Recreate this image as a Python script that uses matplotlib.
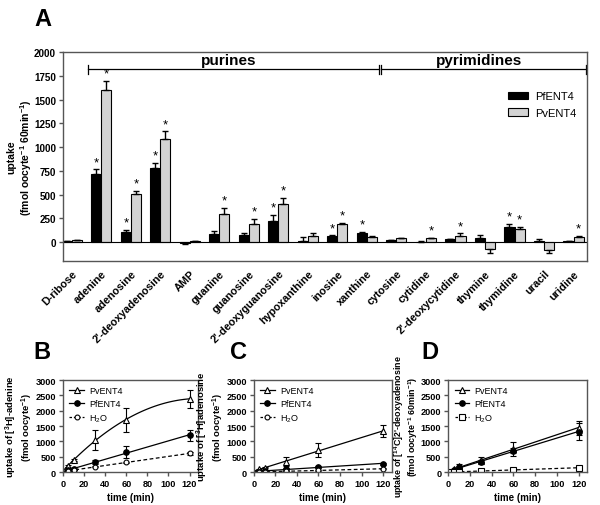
import numpy as np
import matplotlib
matplotlib.use('Agg')
from matplotlib import pyplot as plt

plt.rcParams['font.family'] = ['Liberation Sans', 'DejaVu Sans']
plt.rcParams['mathtext.default'] = 'regular'

# panel A data
labels = ['D-ribose', 'adenine', 'adenosine', "2'-deoxyadenosine", 'AMP', 'guanine',
          'guanosine', "2'-deoxyguanosine", 'hypoxanthine', 'inosine', 'xanthine',
          'cytosine', 'cytidine', "2'-deoxycytidine", 'thymine', 'thymidine', 'uracil', 'uridine']
pf_mean = [10, 712, 109, 779, -12, 84, 74, 221, 14, 60, 95, 21, 5, 32, 46, 161, 10, 10]
pf_err = [3, 53, 21, 56, 3, 32, 25, 63, 40, 10, 8, 4, 2, 5, 30, 28, 25, 3]
pv_mean = [18, 1600, 505, 1088, 8, 298, 189, 396, 60, 186, 53, 42, 42, 67, -77, 140, -81, 53]
pv_err = [3, 95, 32, 77, 2, 60, 56, 67, 35, 20, 8, 5, 5, 25, 35, 21, 32, 14]
pf_star = [0, 1, 1, 1, 0, 0, 0, 1, 0, 1, 1, 0, 0, 0, 0, 1, 0, 0]
pv_star = [0, 1, 1, 1, 0, 1, 1, 1, 0, 1, 0, 0, 1, 1, 0, 1, 0, 1]

# time courses (B, C, D)
t = [5, 10, 30, 60, 120]
b_pv = [200, 400, 1043, 1696, 2391]
b_pv_err = [40, 40, 320, 390, 300]
b_pf = [65, 87, 326, 663, 1196]
b_pf_err = [20, 20, 60, 190, 190]
b_h2o = [40, 65, 174, 315, 609]
b_h2o_err = [10, 10, 20, 30, 40]

c_pv = [87, 150, 337, 717, 1337]
c_pv_err = [20, 30, 150, 230, 200]
c_pf = [10, 30, 109, 174, 272]
c_pf_err = [5, 5, 20, 30, 40]
c_h2o = [2, 5, 33, 54, 109]
c_h2o_err = [2, 2, 5, 10, 15]

td = [0, 5, 10, 30, 60, 120]
d_pv = [0, 87, 200, 380, 760, 1446]
d_pv_err = [0, 20, 60, 120, 220, 230]
d_pf = [0, 70, 170, 337, 700, 1315]
d_pf_err = [0, 20, 40, 60, 80, 280]
d_h2o = [0, 5, 10, 33, 76, 141]
d_h2o_err = [0, 2, 2, 5, 10, 15]

fig = plt.figure(figsize=(6.0, 5.06), dpi=100)
spine_col = '#555555'

# ---------- panel A ----------
ax = fig.add_axes([0.105, 0.482, 0.873, 0.413])
x = np.arange(len(labels))
w = 0.34

def split_err(vals, errs):
    lo = [e if v < 0 else 0 for v, e in zip(vals, errs)]
    hi = [0 if v < 0 else e for v, e in zip(vals, errs)]
    return [lo, hi]

ax.bar(x - w/2, pf_mean, w, color='black', edgecolor='black', linewidth=0.8, label='PfENT4',
       yerr=split_err(pf_mean, pf_err), error_kw=dict(ecolor='black', elinewidth=1, capsize=2.5, capthick=1))
ax.bar(x + w/2, pv_mean, w, color='#d3d3d3', edgecolor='black', linewidth=0.8, label='PvENT4',
       yerr=split_err(pv_mean, pv_err), error_kw=dict(ecolor='black', elinewidth=1, capsize=2.5, capthick=1))

for i in range(len(labels)):
    if pf_star[i]:
        ax.text(x[i] - w/2, pf_mean[i] + pf_err[i] + 15, '*', ha='center', va='bottom', fontsize=9.5)
    if pv_star[i]:
        ax.text(x[i] + w/2, pv_mean[i] + pv_err[i] + 15, '*', ha='center', va='bottom', fontsize=9.5)

ax.axhline(0, color='black', linewidth=0.8)
ax.set_xlim(-0.3, 17.45)
ax.set_ylim(-200, 2000)
ax.set_yticks(np.arange(0, 2001, 250))
ax.set_xticks(x, labels, rotation=45, ha='right', rotation_mode='anchor', fontsize=7.8, fontweight='bold')
ax.tick_params(axis='x', length=0, pad=5)
ax.tick_params(axis='y', labelsize=7.1, length=3, width=1, color=spine_col, pad=2)
for lb in ax.get_yticklabels():
    lb.set_fontweight('bold')
for s in ax.spines.values():
    s.set_color(spine_col)
    s.set_linewidth(1)
ax.set_ylabel('uptake\n(fmol oocyte$^{-1}$ 60min$^{-1}$)', fontsize=7.5, fontweight='bold', linespacing=1.1)
ax.yaxis.set_label_coords(-0.056, 0.5)

# purines / pyrimidines brackets
yb = 1820
ax.plot([0.55, 10.42], [yb, yb], color='black', lw=0.9)
ax.plot([10.49, 17.45], [yb, yb], color='black', lw=0.9)
for xv in [0.55, 10.42, 10.49, 17.42]:
    ax.plot([xv, xv], [yb - 45, yb + 45], color='black', lw=0.9)
ax.text(5.3, yb + 25, 'purines', ha='center', va='bottom', fontsize=11, fontweight='bold')
ax.text(13.8, yb + 25, 'pyrimidines', ha='center', va='bottom', fontsize=11, fontweight='bold')

ax.legend(loc='upper left', bbox_to_anchor=(0.83, 0.86), frameon=False, fontsize=8,
          handlelength=1.8, handleheight=0.7, handletextpad=0.7, labelspacing=0.6)

fig.text(0.058, 0.962, 'A', fontsize=17, fontweight='bold', ha='left', va='center')

# ---------- panels B, C, D ----------
def small_panel(rect, tt, pv, pv_e, pf, pf_e, h2o, h2o_e, ylabel, lab_x, lab_fs=6.8,
                curved=False, h2o_marker='o', h2o_ms=3.5):
    a = fig.add_axes(rect)
    tt = np.asarray(tt, dtype=float)
    tfit = np.linspace(0, 120, 100)
    if curved:
        pv_fit = np.polyval(np.polyfit(tt, pv, 2), tfit)
    else:
        pv_fit = np.polyval(np.polyfit(tt, pv, 1), tfit)
    pf_fit = np.polyval(np.polyfit(tt, pf, 1), tfit)
    h_fit = np.polyval(np.polyfit(tt, h2o, 1), tfit)
    a.plot(tfit, pv_fit, color='black', lw=0.9)
    a.plot(tfit, pf_fit, color='black', lw=0.9)
    a.plot(tfit, h_fit, color='black', lw=0.9, ls='--', dashes=(3, 2))
    a.errorbar(tt, pv, yerr=pv_e, fmt='^', color='black', mfc='white', ms=4.5, mew=0.8,
               elinewidth=0.8, capsize=2.5, capthick=0.8)
    a.errorbar(tt, pf, yerr=pf_e, fmt='o', color='black', mfc='black', ms=4, mew=0.8,
               elinewidth=0.8, capsize=2.5, capthick=0.8)
    a.errorbar(tt, h2o, yerr=h2o_e, fmt=h2o_marker, color='black', mfc='white', ms=h2o_ms, mew=0.8,
               elinewidth=0.8, capsize=2.5, capthick=0.8)
    # legend handles
    h1, = a.plot([], [], marker='^', color='black', mfc='white', ms=4.5, mew=0.8, lw=0.9)
    h2, = a.plot([], [], marker='o', color='black', mfc='black', ms=4, mew=0.8, lw=0.9)
    h3, = a.plot([], [], marker=h2o_marker, color='black', mfc='white', ms=h2o_ms, mew=0.8, lw=0.9,
                 ls='--', dashes=(2, 1.5))
    a.legend([h1, h2, h3], ['PvENT4', 'PfENT4', 'H$_2$O'], loc='upper left', frameon=False, fontsize=6.5,
             handlelength=1.6, handletextpad=0.6, labelspacing=0.45, borderaxespad=0.3)
    a.set_xlim(0, 128)
    a.set_ylim(0, 3000)
    a.set_xticks(np.arange(0, 121, 20))
    a.set_yticks(np.arange(0, 3001, 500))
    a.tick_params(labelsize=6.6, length=3, width=1, color=spine_col, pad=2)
    for lb in a.get_xticklabels() + a.get_yticklabels():
        lb.set_fontweight('bold')
    for s in a.spines.values():
        s.set_color(spine_col)
        s.set_linewidth(1)
    a.set_xlabel('time (min)', fontsize=7, fontweight='bold', labelpad=3)
    a.set_ylabel(ylabel, fontsize=lab_fs, fontweight='bold', linespacing=1.0)
    a.yaxis.set_label_coords(lab_x, 0.5)
    return a

small_panel([0.105, 0.065, 0.225, 0.182], t, b_pv, b_pv_err, b_pf, b_pf_err, b_h2o, b_h2o_err,
            'uptake of [$^{3}$H]-adenine\n(fmol oocyte$^{-1}$)', -0.21, curved=True)
small_panel([0.423, 0.065, 0.230, 0.182], t, c_pv, c_pv_err, c_pf, c_pf_err, c_h2o, c_h2o_err,
            'uptake of [$^{3}$H]adenosine\n(fmol oocyte$^{-1}$)', -0.205)
small_panel([0.747, 0.065, 0.232, 0.182], td, d_pv, d_pv_err, d_pf, d_pf_err, d_h2o, d_h2o_err,
            "uptake of [$^{14}$C]2'-deoxyadenosine\n(fmol oocyte$^{-1}$ 60min$^{-1}$)", -0.205,
            lab_fs=6.4, h2o_marker='s', h2o_ms=5)

fig.text(0.055, 0.303, 'B', fontsize=17, fontweight='bold', ha='left', va='center')
fig.text(0.383, 0.303, 'C', fontsize=17, fontweight='bold', ha='left', va='center')
fig.text(0.703, 0.303, 'D', fontsize=17, fontweight='bold', ha='left', va='center')

fig.savefig('out.png', dpi=100)
